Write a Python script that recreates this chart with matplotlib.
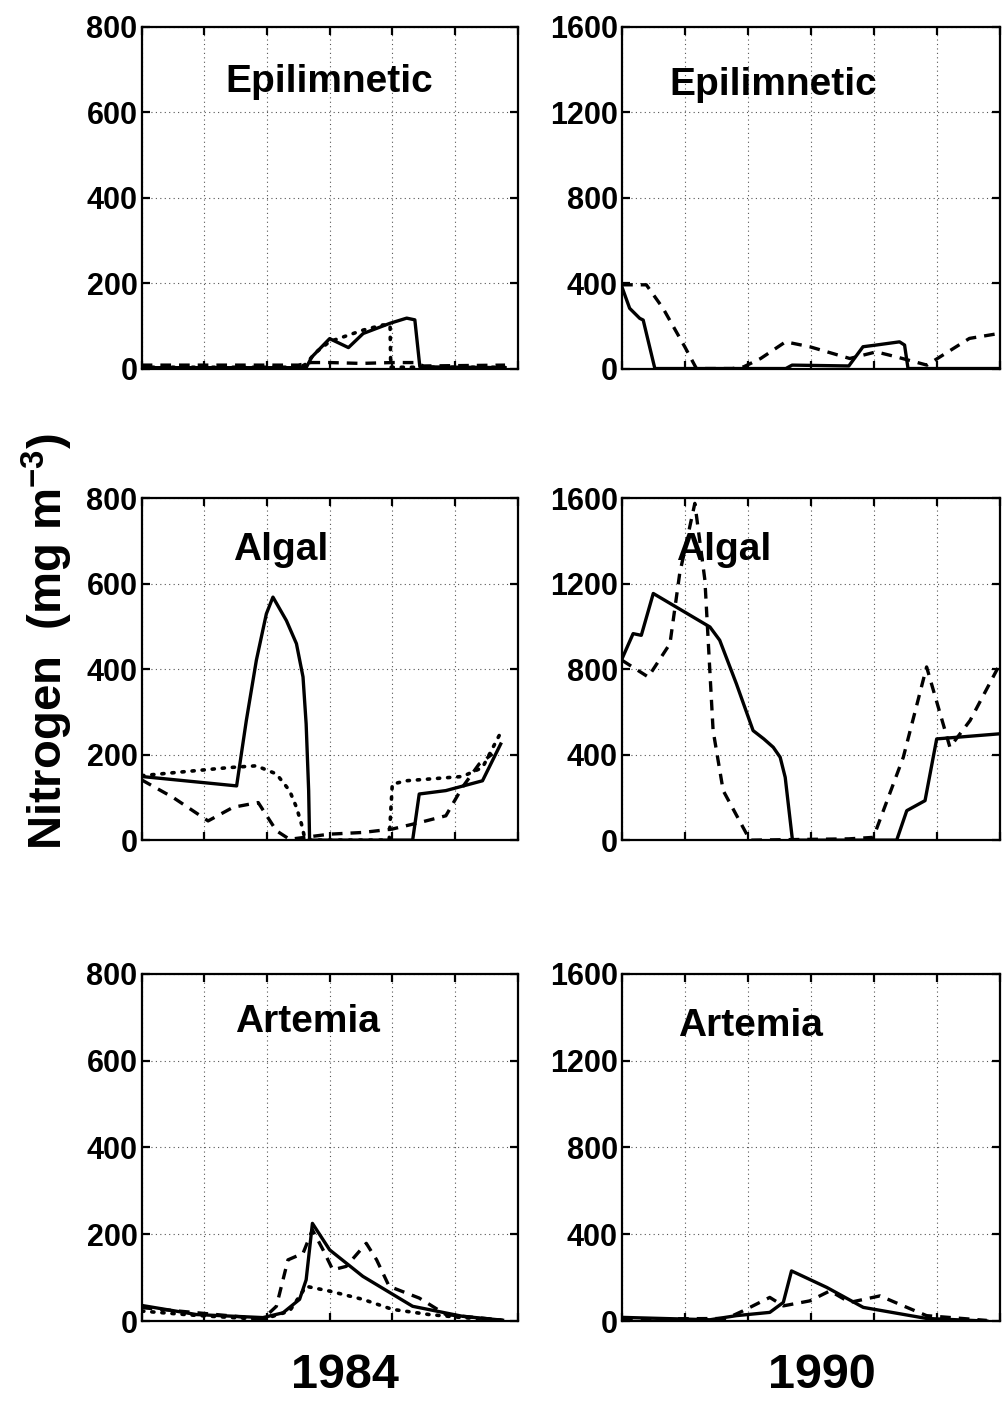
import matplotlib
matplotlib.use("Agg")
import matplotlib.pyplot as plt

plt.rcParams['font.family'] = ['Liberation Sans', 'DejaVu Sans']
plt.rcParams['mathtext.fontset'] = 'custom'
plt.rcParams['mathtext.rm'] = 'Liberation Sans:bold'
plt.rcParams['mathtext.default'] = 'rm'

# time axis in months, one tick every two months
x_ticks = [0, 2, 4, 6, 8, 10, 12]
yticks_84 = [0, 200, 400, 600, 800]
yticks_90 = [0, 400, 800, 1200, 1600]
years = ["1984", "1990"]
pools = ["Epilimnetic", "Algal", "Artemia"]

# --- Epilimnetic nitrogen ---
epi84_solid_x = [0, 5.25, 5.43, 6.0, 6.6, 7.07, 7.93, 8.46, 8.72, 8.88, 11.6]
epi84_solid_y = [2, 2, 27, 70, 49, 82, 106, 118, 114, 4, 2]
epi84_dot_x = [0, 4.9, 5.2, 5.58, 6.0, 7.07, 7.7, 7.93, 7.95, 11.6]
epi84_dot_y = [3, 3, 8, 39, 63, 90, 102, 102, 3, 3]
epi84_dash_x = [0, 5.0, 5.4, 6.0, 7.0, 8.0, 8.7, 9.0, 11.6]
epi84_dash_y = [8, 8, 14, 14, 12, 14, 14, 6, 8]

epi90_solid_x = [0, 0.24, 0.56, 0.67, 1.04, 5.2, 5.4, 7.2, 7.65, 8.07, 8.81, 8.97, 9.08, 12]
epi90_solid_y = [380, 282, 235, 227, 0, 0, 16, 12, 102, 110, 125, 110, 0, 0]
epi90_dash_x = [0, 0.77, 1.3, 1.99, 2.36, 3.5, 3.86, 4.4, 5.19, 5.96, 7.23, 8.07, 8.7, 9.68,
                10.1, 11.03, 12]
epi90_dash_y = [392, 392, 282, 102, 0, 0, 8, 47, 125, 102, 47, 78, 55, 16, 55, 141, 165]

# --- Algal nitrogen ---
alg84_solid_x = [0, 3.03, 3.34, 3.66, 3.98, 4.19, 4.62, 4.94, 5.15, 5.25, 5.33, 5.36,
                 8.65, 8.86, 9.71, 10.88, 11.46]
alg84_solid_y = [149, 127, 280, 421, 530, 569, 514, 460, 382, 272, 116, 0,
                 0, 108, 116, 139, 225]
alg84_dot_x = [0, 2.81, 3.66, 4.3, 4.72, 4.94, 5.1, 5.2, 5.36, 7.9, 8.0, 8.44, 10.24,
               10.88, 11.52]
alg84_dot_y = [151, 170, 174, 155, 116, 77, 38, 6, 0, 0, 131, 139, 149, 170, 260]
alg84_dash_x = [0, 1.0, 2.12, 2.92, 3.72, 4.3, 4.72, 6.0, 7.06, 8.0, 8.86, 9.71, 10.24,
                10.77, 11.2]
alg84_dash_y = [141, 100, 45, 77, 88, 22, 2, 14, 18, 26, 41, 57, 124, 178, 202]

alg90_solid_x = [0, 0.35, 0.61, 0.99, 2.79, 3.1, 3.63, 4.16, 4.5, 4.8, 5.02, 5.18, 5.29,
                 5.41, 8.72, 9.04, 9.62, 9.99, 12]
alg90_solid_y = [850, 967, 959, 1155, 998, 936, 732, 513, 474, 435, 388, 294, 153,
                 0, 0, 138, 185, 474, 498]
alg90_dash_x = [0, 0.83, 1.52, 1.83, 2.31, 2.63, 2.89, 3.21, 4.06, 7.2, 7.98, 8.93, 9.67,
                10.41, 11.05, 11.95]
alg90_dash_y = [842, 764, 920, 1249, 1577, 1217, 513, 232, 0, 6, 13, 388, 811, 435, 560, 811]

# --- Artemia nitrogen ---
art84_solid_x = [0, 1.75, 3.87, 4.51, 5.04, 5.25, 5.45, 6.0, 7.06, 8.65, 10.24, 11.52]
art84_solid_y = [36, 15, 8, 19, 50, 95, 225, 164, 103, 34, 11, 2]
art84_dash_x = [0, 3.87, 4.3, 4.67, 5.15, 5.45, 5.79, 6.1, 6.53, 7.17, 7.5, 7.9, 8.86,
                9.71, 11.52]
art84_dash_y = [31, 5, 34, 141, 156, 210, 164, 118, 126, 179, 141, 80, 53, 15, 2]
art84_dot_x = [0, 1.75, 3.87, 4.72, 5.25, 6.0, 7.06, 8.0, 9.18, 10.24, 11.52]
art84_dot_y = [23, 13, 4, 23, 80, 69, 50, 27, 15, 8, 2]

art90_solid_x = [0, 2.79, 3.63, 4.69, 5.12, 5.38, 6.5, 7.66, 9.67, 11.58]
art90_solid_y = [17, 6, 25, 40, 86, 231, 155, 63, 12, 0]
art90_dash_x = [0, 3.32, 3.84, 4.69, 5.12, 5.96, 6.6, 7.23, 8.19, 8.93, 9.67, 11.58]
art90_dash_y = [9, 12, 47, 109, 70, 93, 139, 86, 116, 70, 25, 3]

panels = [
    [[(epi84_solid_x, epi84_solid_y, '-'), (epi84_dot_x, epi84_dot_y, ':'),
      (epi84_dash_x, epi84_dash_y, '--')],
     [(epi90_solid_x, epi90_solid_y, '-'), (epi90_dash_x, epi90_dash_y, '--')]],
    [[(alg84_solid_x, alg84_solid_y, '-'), (alg84_dot_x, alg84_dot_y, ':'),
      (alg84_dash_x, alg84_dash_y, '--')],
     [(alg90_solid_x, alg90_solid_y, '-'), (alg90_dash_x, alg90_dash_y, '--')]],
    [[(art84_solid_x, art84_solid_y, '-'), (art84_dash_x, art84_dash_y, '--'),
      (art84_dot_x, art84_dot_y, ':')],
     [(art90_solid_x, art90_solid_y, '-'), (art90_dash_x, art90_dash_y, '--')]],
]

# label positions inside each axes (axes fraction)
title_pos = [[(0.50, 0.84), (0.40, 0.83)],
             [(0.37, 0.85), (0.27, 0.85)],
             [(0.44, 0.86), (0.34, 0.85)]]

fig = plt.figure(figsize=(10.05, 14.12), dpi=100)

col_left = [0.141, 0.619]
col_width = [0.374, 0.376]
row_bottom = [0.739, 0.405, 0.0644]
row_height = [0.242, 0.242, 0.246]

for r in range(3):
    for c in range(2):
        ax = fig.add_axes([col_left[c], row_bottom[r], col_width[c], row_height[r]])
        for xs, ys, ls in panels[r][c]:
            if ls == ':':
                ax.plot(xs, ys, color='black', lw=2.6, linestyle=(0, (0.6, 2.2)),
                        dash_capstyle='round', solid_capstyle='round')
            elif ls == '--':
                ax.plot(xs, ys, color='black', lw=2.4, linestyle=(0, (3.2, 2.4)))
            else:
                ax.plot(xs, ys, color='black', lw=2.4)
        yt = yticks_84 if c == 0 else yticks_90
        ax.set_xlim(0, 12)
        ax.set_ylim(yt[0], yt[-1])
        ax.set_xticks(x_ticks)
        ax.set_xticklabels([])
        ax.set_yticks(yt)
        ax.set_yticklabels([str(v) for v in yt], fontsize=22, fontweight='bold')
        ax.tick_params(direction='in', top=True, right=True, length=6, width=1.6, pad=3)
        ax.grid(True, linestyle=(0, (1, 3)), color='#555555', linewidth=0.8)
        for sp in ax.spines.values():
            sp.set_linewidth(1.6)
        tx, ty = title_pos[r][c]
        ax.text(tx, ty, pools[r], transform=ax.transAxes, ha='center', va='center',
                fontsize=28, fontweight='bold')

fig.text(0.047, 1 - 641 / 1412, 'Nitrogen  (mg m$^{-3}$)', rotation=90,
         ha='center', va='center', fontsize=34, fontweight='bold')
fig.text(345 / 1005, 1 - 1375 / 1412, years[0], ha='center', va='center',
         fontsize=35, fontweight='bold')
fig.text(822 / 1005, 1 - 1375 / 1412, years[1], ha='center', va='center',
         fontsize=35, fontweight='bold')

fig.savefig('out.png', dpi=100)
